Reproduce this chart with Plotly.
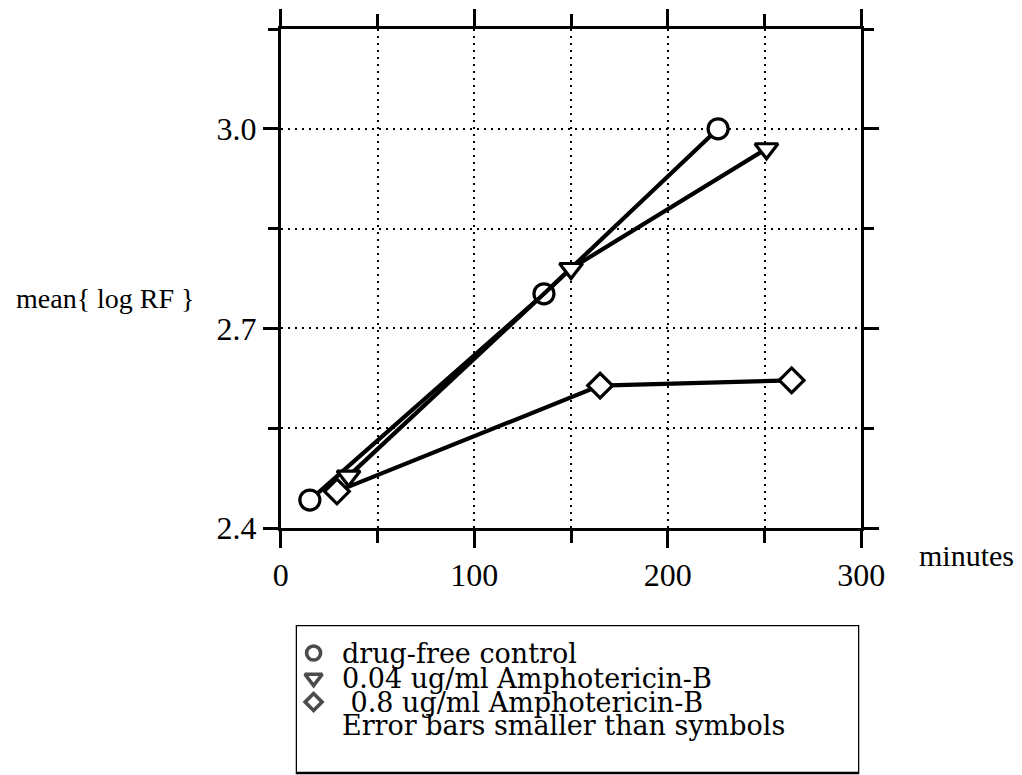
import plotly.graph_objects as go

# Mean log RF over time for each treatment
control_min = [15, 136, 226]
control_logrf = [2.442, 2.752, 3.0]

ampho_low_min = [35, 150, 251]
ampho_low_logrf = [2.478, 2.79, 2.97]

ampho_high_min = [29, 165, 264]
ampho_high_logrf = [2.455, 2.614, 2.622]

series_labels = ["drug-free control", "0.04 ug/ml Amphotericin-B", " 0.8 ug/ml Amphotericin-B"]
series_symbols = ["circle", "triangle-down", "diamond"]
series_sizes = [20, 20, 19]
note_text = "Error bars smaller than symbols"

x_label = "minutes"
y_label = "mean{ log RF }"

# Layout is described on a 1022x775 grid; the figure itself is drawn slightly larger
GRID_W, GRID_H = 1022, 775
W, H = 1046, 793
FONT = "Liberation Serif"
KEY_FONT = "DejaVu Serif"
BLACK = "black"


def fx(px):
    return px / GRID_W


def fy(py):
    return 1 - py / GRID_H


fig = go.Figure()

series = [
    (control_min, control_logrf),
    (ampho_low_min, ampho_low_logrf),
    (ampho_high_min, ampho_high_logrf),
]
for (xs, ys), sym, size, name in zip(series, series_symbols, series_sizes, series_labels):
    fig.add_trace(go.Scatter(
        x=xs, y=ys, mode="lines+markers", name=name, showlegend=False,
        line=dict(color=BLACK, width=4.2),
        marker=dict(symbol=sym, size=size, color="white",
                    line=dict(color=BLACK, width=3.2)),
        cliponaxis=False,
    ))

# Boxed key below the chart, on its own hidden axes (grid units)
KEY_LEFT, KEY_RIGHT, KEY_TOP, KEY_BOTTOM = 290, 858, 625, 773
key_rows = [653, 678, 702, 725]
key_marker_x = [308, 308, 308]
key_text_x = 335
fig.add_trace(go.Scatter(
    x=key_marker_x, y=key_rows[:3], mode="markers", showlegend=False,
    xaxis="x2", yaxis="y2", cliponaxis=False,
    marker=dict(symbol=series_symbols, size=[14, 15, 13], color="white",
                line=dict(color=BLACK, width=3.6)),
))

key_texts = series_labels + [note_text]
annotations = []
for row_y, txt in zip(key_rows, key_texts):
    annotations.append(dict(
        x=key_text_x, y=row_y, xref="x2", yref="y2", text=txt,
        showarrow=False, xanchor="left", yanchor="middle",
        font=dict(family=KEY_FONT, size=27, color=BLACK),
    ))

annotations.append(dict(
    x=fx(98), y=fy(298), xref="paper", yref="paper", text=y_label,
    showarrow=False, xanchor="center", yanchor="middle",
    font=dict(family=FONT, size=28, color=BLACK),
))
annotations.append(dict(
    x=fx(966), y=fy(555), xref="paper", yref="paper", text=x_label,
    showarrow=False, xanchor="center", yanchor="middle",
    font=dict(family=FONT, size=30, color=BLACK),
))

grid_common = dict(showgrid=True, gridcolor=BLACK, gridwidth=1.5, griddash="2px,5px")

fig.update_layout(
    width=W, height=H,
    margin=dict(l=0, r=0, t=0, b=0),
    paper_bgcolor="white", plot_bgcolor="white",
    showlegend=False,
    annotations=annotations,
    xaxis=dict(
        domain=[fx(275), fx(860)],
        range=[0, 300], tick0=0, dtick=100,
        ticks="outside", ticklen=17, tickwidth=2.5, tickcolor=BLACK,
        showline=True, linewidth=3, linecolor=BLACK, mirror="allticks",
        zeroline=False,
        tickfont=dict(family=FONT, size=32, color=BLACK),
        minor=dict(dtick=50, tick0=0, ticks="outside", ticklen=12, tickwidth=2.5,
                   tickcolor=BLACK, **grid_common),
        **grid_common,
    ),
    yaxis=dict(
        domain=[fy(528), fy(29)],
        range=[2.4, 3.15], tick0=2.4, dtick=0.3, tickformat=".1f",
        ticks="outside", ticklen=15, tickwidth=2.5, tickcolor=BLACK,
        showline=True, linewidth=3, linecolor=BLACK, mirror="allticks",
        zeroline=False,
        tickfont=dict(family=FONT, size=32, color=BLACK),
        minor=dict(dtick=0.15, tick0=2.4, ticks="outside", ticklen=10, tickwidth=2.5,
                   tickcolor=BLACK, **grid_common),
        **grid_common,
    ),
    xaxis2=dict(domain=[fx(KEY_LEFT), fx(KEY_RIGHT)], range=[KEY_LEFT, KEY_RIGHT],
                visible=False, anchor="y2", fixedrange=True),
    yaxis2=dict(domain=[0, fy(KEY_TOP)], range=[GRID_H, KEY_TOP],
                visible=False, anchor="x2", fixedrange=True),
    shapes=[dict(
        type="rect", xref="x2", yref="y2",
        x0=KEY_LEFT, x1=KEY_RIGHT, y0=KEY_BOTTOM, y1=KEY_TOP,
        line=dict(color=BLACK, width=2.5), fillcolor="rgba(0,0,0,0)",
    )],
)

fig.write_html("out.html")
